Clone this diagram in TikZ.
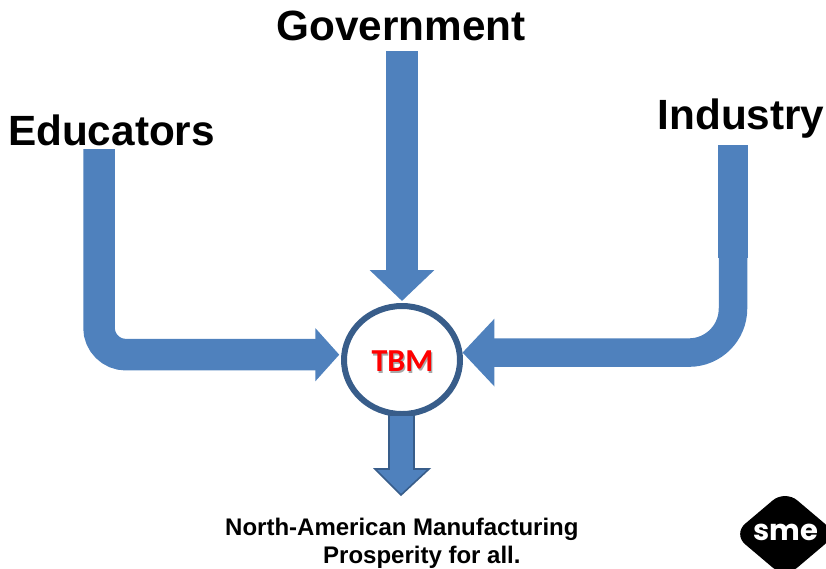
\documentclass[tikz,border=0pt]{standalone}
\usepackage{fontspec}
\setmainfont{Liberation Sans}
\newfontfamily\tbmfont{Carlito}
\newfontfamily\logofont{Poppins}
\usetikzlibrary{arrows.meta,shapes.geometric}
\definecolor{smeBlue}{HTML}{4F81BD}
\definecolor{smeEdge}{HTML}{385D8A}
\definecolor{tbmShade}{HTML}{A8A8A8}
\tikzset{
    partner/.style={font=\fontsize{42.3}{42}\selectfont\bfseries, inner sep=0pt, anchor=base},
    flow/.style={draw=smeBlue, line width=#1, line cap=butt},
}
\begin{document}
\begin{tikzpicture}[x=1pt,y=-1pt]
    \useasboundingbox (0,0) rectangle (826,568);
    \node [partner] (government) at (401,40) {Government};
    \node [partner] (educators) at (111.5,145) {Educators};
    \node [partner] (industry) at (741,129) {Industry};
    \node [draw=smeEdge, line width=6pt, ellipse, minimum width=116pt, minimum height=108pt, inner sep=0pt] (tbm) at (402,360) {};
    \node [font=\tbmfont\fontsize{32}{32}\selectfont\bfseries, text=red] (tbmlabel) at (402.5,362) {\rlap{\hspace{1.2pt}\raisebox{-1.5pt}{\textcolor{tbmShade}{TBM}}}TBM};
    \coordinate (govTop) at (402,51);
    \coordinate (eduTop) at (99,149);
    \coordinate (indTop) at (733,145);
    \coordinate (indStep) at (733,258);
    \coordinate (outTip) at (401,495);
    \draw [flow=32pt, shorten >=2pt, -{Triangle[length=31pt,width=63pt]}] (govTop) -- (tbm.north);
    \draw [flow=31.5pt, shorten >=2pt, rounded corners=27pt, -{Triangle[length=24pt,width=52pt]}] (eduTop) |- (tbm.175);
    \draw [flow=28.5pt, rounded corners=44pt, -{Triangle[length=32pt,width=66pt]}] (indTop) |- (tbm.7);
    \draw [flow=30pt] (indTop) -- (indStep);
    \fill [draw=smeEdge, line width=1.6pt, fill=smeBlue] (tbm.south) ++(-13,-2) -- ++(0,54) -- ++(-14,0) -- (outTip) -- ++(28,-26) -- ++(-15,0) -- ++(0,-54) -- cycle;
    \node [font=\fontsize{24}{28}\selectfont\bfseries, align=left, inner sep=0pt, anchor=north west] (goal) at (225,518) {North-American Manufacturing\\\hspace{98pt}Prosperity for all.};
    \begin{scope}
        \clip (0,0) rectangle (826,568);
        \fill [black, rounded corners=16pt] (733,534) -- (785,490) -- (837,534) -- (785,578) -- cycle;
    \end{scope}
    \node [font=\logofont\fontsize{29}{29}\selectfont\bfseries, text=white, inner sep=0pt] (logo) at (786,532) {sme};
    \node [font=\fontsize{6}{6}\selectfont, text=white, inner sep=0pt] (logomark) at (817,559) {®};
\end{tikzpicture}
\end{document}
